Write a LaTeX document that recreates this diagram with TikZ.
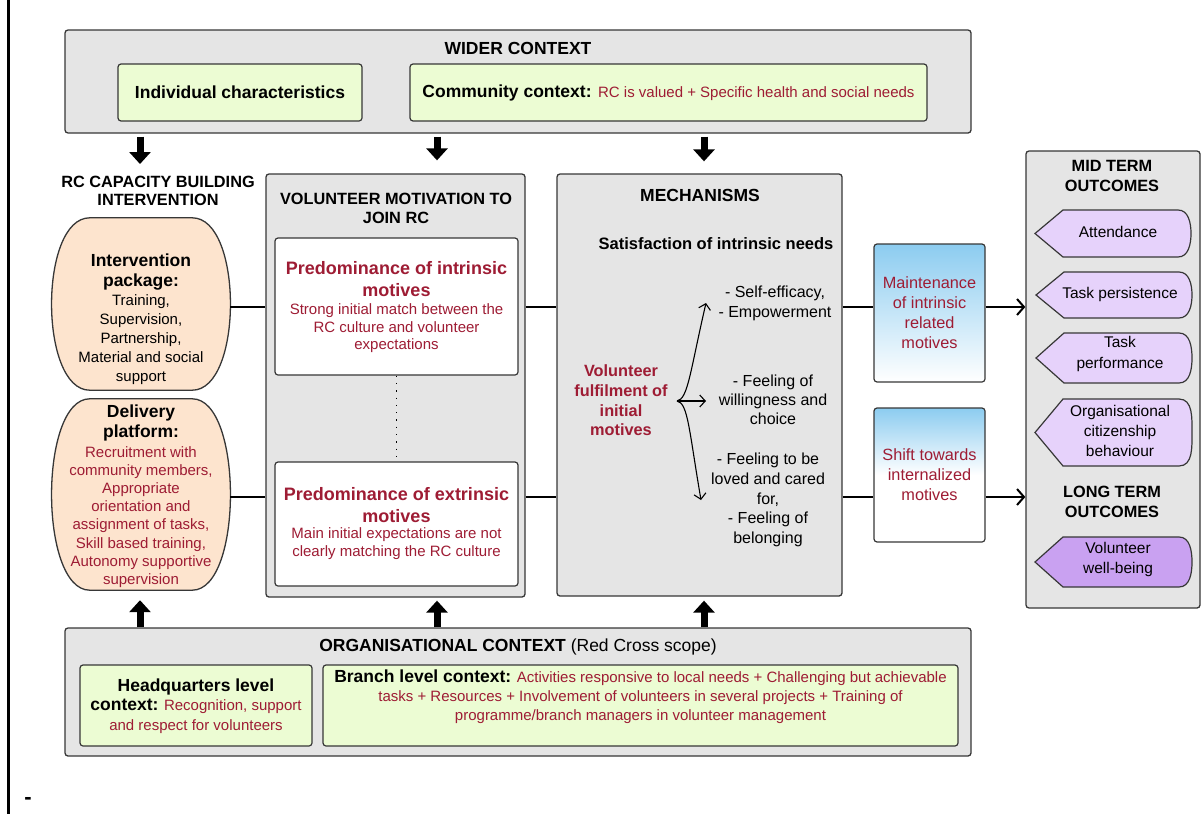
\documentclass[tikz,border=0pt]{standalone}
\usepackage{fontspec}
\setmainfont{Liberation Sans}
\usetikzlibrary{arrows.meta,calc}
\definecolor{boxgray}{RGB}{229,229,229}
\definecolor{edge}{RGB}{55,55,55}
\definecolor{lgreen}{RGB}{236,252,211}
\definecolor{peach}{RGB}{253,228,206}
\definecolor{rtext}{RGB}{158,28,52}
\definecolor{lpurple}{RGB}{230,210,251}
\definecolor{dpurple}{RGB}{201,161,241}
\definecolor{lblue}{RGB}{140,204,240}
\newcommand{\fs}[2]{\fontsize{#1}{#2}\selectfont}
\newcommand{\barrel}[2]{%
  \draw[draw=edge,line width=1.3pt,fill=#2] ([xshift=38pt]#1.north west) -- ([xshift=-38pt]#1.north east)
   .. controls ([xshift=13pt]#1.north east) and ([xshift=13pt]#1.south east) .. ([xshift=-38pt]#1.south east)
   -- ([xshift=38pt]#1.south west)
   .. controls ([xshift=-13pt]#1.south west) and ([xshift=-13pt]#1.north west) .. cycle;}
\newcommand{\pent}[5]{%
  \draw[draw=edge,line width=1.2pt,fill=#5] (#1,{(#2+#4)/2}) -- ({#1+28},#2) -- ({#3-13},#2)
   to[out=0,in=90] (#3,{(#2+#4)/2}) to[out=-90,in=0] ({#3-13},#4) -- ({#1+28},#4) -- cycle;}
\begin{document}
\begin{tikzpicture}[x=1pt,y=-1pt,
 graybox/.style={draw=edge,line width=1.3pt,fill=boxgray,rounded corners=3pt,inner sep=0pt},
 greenbox/.style={draw=edge,line width=1.2pt,fill=lgreen,rounded corners=3pt,inner sep=0pt,align=center},
 whitebox/.style={draw=edge,line width=1.2pt,fill=white,rounded corners=3pt,inner sep=0pt},
 bluebox/.style={draw=edge,line width=1.2pt,rounded corners=3pt,inner sep=0pt,align=center,text=rtext,font=\fs{16.3}{20}},
 frame/.style={inner sep=0pt,draw=none},
 txt/.style={align=center,inner sep=0pt,text=black},
 rtxt/.style={align=center,inner sep=0pt,text=rtext},
 blk/.style={line width=7pt,-{Triangle[width=21pt,length=12pt]}},
 conn/.style={line width=2.2pt},
 oarrow/.style={line width=2pt,-{Straight Barb[length=7pt,width=16pt,line width=2pt]}},
 thinarrow/.style={line width=1.1pt,-{Straight Barb[length=5.5pt,width=12pt,line width=1.1pt]}},
]
\useasboundingbox (0,0) rectangle (1203,814);
\draw[line width=3pt] (8.5,0) -- (8.5,814);
\node[txt,font=\bfseries\fs{22}{24}] (dash) at (28,801) {-};

% wider context
\node[graybox,minimum width=906pt,minimum height=103pt] (wider) at (518,81.5) {};
\node[txt,font=\bfseries\fs{17.5}{20}] (widert) at (518,48) {WIDER CONTEXT};
\node[greenbox,minimum width=244pt,minimum height=57pt,font=\bfseries\fs{17.5}{20}] (indiv) at (240,92.5) {Individual characteristics};
\node[greenbox,minimum width=517pt,minimum height=57pt,font=\fs{17.5}{20}] (comm) at (668.5,92.5)
  {\textbf{Community context:} {\color{rtext}\fs{15}{18}RC is valued + Specific health and social needs}};

% organisational context
\node[graybox,minimum width=906pt,minimum height=128pt] (org) at (518,692) {};
\node[txt,font=\fs{17.5}{20}] (orgt) at (518,647) {\textbf{ORGANISATIONAL CONTEXT} (Red Cross scope)};
\node[greenbox,minimum width=232pt,minimum height=81pt] (hq) at (196,705.5) {};
\node[rtxt,font=\fs{15}{19.5}] (hqt) at (196,706)
  {\textcolor{black}{\bfseries\fs{17.5}{19.5}Headquarters level}\\
   \textcolor{black}{\bfseries\fs{17.5}{19.5}context:} Recognition, support\\ and respect for volunteers};
\node[greenbox,minimum width=635pt,minimum height=81pt] (branch) at (640.5,705.5) {};
\node[rtxt,font=\fs{15}{19}] (brt) at (640.5,697)
  {\textcolor{black}{\bfseries\fs{17.5}{19}Branch level context:} Activities responsive to local needs + Challenging but achievable\\
   tasks + Resources + Involvement of volunteers in several projects + Training of\\
   programme/branch managers in volunteer management};

% capacity building
\node[txt,font=\bfseries\fs{16.3}{18}] (cap) at (158,191) {RC CAPACITY BUILDING\\INTERVENTION};
\node[frame,minimum width=178pt,minimum height=172pt] (ip) at (141,304) {};
\node[frame,minimum width=178pt,minimum height=191pt] (dp) at (141,494.5) {};
\barrel{ip}{peach}
\barrel{dp}{peach}
\node[txt,font=\bfseries\fs{17.5}{19.5}] (ipa) at (141,272) {Intervention\\package:};
\node[txt,font=\fs{15}{19}] (ipb) at (141,339.5) {Training,\\Supervision,\\Partnership,\\Material and social\\support};
\node[txt,font=\bfseries\fs{17.5}{20}] (dpa) at (141,423) {Delivery\\platform:};
\node[rtxt,font=\fs{15}{18.2}] (dpb) at (141,517) {Recruitment with\\community members,\\Appropriate\\orientation and\\assignment of tasks,\\Skill based training,\\Autonomy supportive\\supervision};

% motivation
\node[graybox,minimum width=259pt,minimum height=423pt] (mot) at (395.5,385.5) {};
\node[txt,font=\bfseries\fs{16.3}{19}] (mott) at (396,208.5) {VOLUNTEER MOTIVATION TO\\JOIN RC};
\node[whitebox,minimum width=243pt,minimum height=137pt] (intr) at (396.5,306.5) {};
\node[whitebox,minimum width=243pt,minimum height=124pt] (extr) at (396.5,524) {};
\draw[line width=1.3pt,dash pattern=on 1.3pt off 6pt] (intr.south) -- (extr.north);
\node[rtxt,font=\bfseries\fs{18}{22}] (it1) at (396.5,279) {Predominance of intrinsic\\motives};
\node[rtxt,font=\fs{15}{17.5}] (it2) at (396.5,328.5) {Strong initial match between the\\RC culture and volunteer\\expectations};
\node[rtxt,font=\bfseries\fs{18}{22}] (ex1) at (396.5,505) {Predominance of extrinsic\\motives};
\node[rtxt,font=\fs{15}{18}] (ex2) at (396.5,544) {Main initial expectations are not\\clearly matching the RC culture};

% mechanisms
\node[graybox,minimum width=285pt,minimum height=422pt] (mech) at (699.5,385) {};
\node[txt,font=\bfseries\fs{17.5}{20}] (mecht) at (700,195) {MECHANISMS};
\node[txt,font=\bfseries\fs{16.5}{20}] (sat) at (716,244) {Satisfaction of intrinsic needs};
\node[rtxt,font=\bfseries\fs{16.3}{19.7}] (vf) at (621,400.5) {Volunteer\\fulfilment of\\initial\\motives};
\node[txt,font=\fs{16}{20}] (se) at (775,303) {- Self-efficacy,\\- Empowerment};
\node[txt,font=\fs{16}{19}] (fw) at (773,400) {- Feeling of\\willingness and\\choice};
\node[txt,font=\fs{16}{19.8}] (fl) at (768,500) {- Feeling to be\\loved and cared\\for,\\- Feeling of\\belonging};
\coordinate (vo) at (677,401);
\coordinate (t1) at (706,303);
\coordinate (t2) at (706,401);
\coordinate (t3) at (701,500);
\draw[thinarrow] (vo) .. controls (688,399) and (690,372) .. (t1);
\draw[thinarrow] (vo) -- (t2);
\draw[thinarrow] (vo) .. controls (688,403) and (689,430) .. (t3);

% intermediate
\node[bluebox,top color=lblue,bottom color=white,minimum width=111pt,minimum height=138pt] (maint) at (929.5,313)
  {Maintenance\\of intrinsic\\related\\motives};
\node[bluebox,top color=lblue,bottom color=white,middle color=white,minimum width=111pt,minimum height=134pt] (shift) at (929.5,475)
  {Shift towards\\internalized\\motives};

% outcomes
\node[graybox,minimum width=174pt,minimum height=457pt] (outc) at (1113,379.5) {};
\node[txt,font=\bfseries\fs{16.3}{20}] (midt) at (1112,176) {MID TERM\\OUTCOMES};
\node[txt,font=\bfseries\fs{16.3}{20}] (longt) at (1112,502) {LONG TERM\\OUTCOMES};
\pent{1035}{210}{1191}{257}{lpurple}
\pent{1036}{272}{1192}{318}{lpurple}
\pent{1036}{333}{1192}{383}{lpurple}
\pent{1035}{399}{1192}{466}{lpurple}
\pent{1035}{537}{1192}{587}{dpurple}
\node[txt,font=\fs{15.5}{20}] (att) at (1118,232) {Attendance};
\node[txt,font=\fs{15.5}{20}] (tper) at (1120,294) {Task persistence};
\node[txt,font=\fs{15.5}{20.5}] (tperf) at (1120,354) {Task\\performance};
\node[txt,font=\fs{15.5}{20}] (ocb) at (1120,431) {Organisational\\citizenship\\behaviour};
\node[txt,font=\fs{15.5}{20}] (vwb) at (1118,559) {Volunteer\\well-being};

% connectors
\coordinate (r1) at (0,307);
\coordinate (r2) at (0,497);
\draw[conn] (ip.east |- r1) -- (mot.west |- r1);
\draw[conn] (mot.east |- r1) -- (mech.west |- r1);
\draw[conn] (mech.east |- r1) -- (maint.west |- r1);
\draw[oarrow] (maint.east |- r1) -- (outc.west |- r1);
\draw[conn] (dp.east |- r2) -- (mot.west |- r2);
\draw[conn] (mot.east |- r2) -- (mech.west |- r2);
\draw[conn] (mech.east |- r2) -- (shift.west |- r2);
\draw[oarrow] (shift.east |- r2) -- (outc.west |- r2);

% block arrows
\coordinate (ax1) at (140,0);
\coordinate (ax2) at (437,0);
\coordinate (ax3) at (704,0);
\draw[blk] ([yshift=-3pt]wider.south -| ax1) -- ([yshift=12pt]cap.north -| ax1);
\draw[blk] ([yshift=-3pt]wider.south -| ax2) -- ([yshift=13pt]mot.north -| ax2);
\draw[blk] ([yshift=-3pt]wider.south -| ax3) -- ([yshift=12pt]mech.north -| ax3);
\draw[blk] (org.north -| ax1) -- ([yshift=-10pt]dp.south -| ax1);
\draw[blk] (org.north -| ax2) -- ([yshift=-3pt]mot.south -| ax2);
\draw[blk] (org.north -| ax3) -- ([yshift=-4pt]mech.south -| ax3);
\end{tikzpicture}
\end{document}
